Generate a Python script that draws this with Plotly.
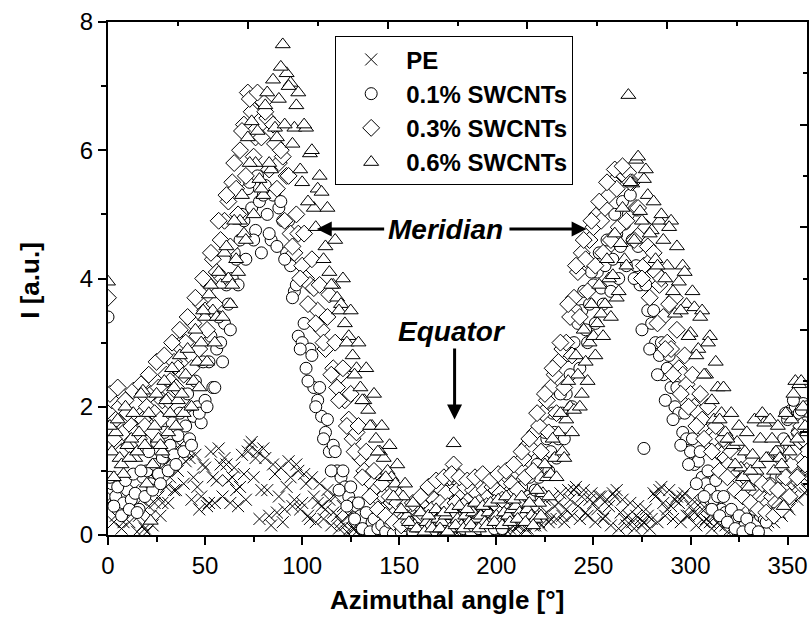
import plotly.graph_objects as go

# Azimuthal angle grids (degrees): even and odd readings
angles_even = list(range(0, 361, 2))
angles_odd = list(range(1, 360, 2))

pe_even = [
    0.5, 0.6, 0.3, 0.5, 0.2, 0.45, 0.35, 0.4, 0.3, 0.15,
    0.05, 0.3, 0.5, 0.6, 0.5, 0.75, 0.9, 0.7, 1.0, 1.3,
    1.15, 1.2, 0.9, 0.75, 0.6, 1.05, 0.5, 0.9, 0.85, 1.1,
    1.2, 0.85, 0.9, 0.7, 0.75, 0.95, 1.3, 1.45, 1.2, 0.25,
    1.35, 0.7, 0.15, 0.95, 0.6, 0.2, 0.75, 0.9, 0.55, 1.0,
    0.5, 0.8, 0.25, 0.6, 0.5, 0.45, 0.4, 0.55, 0.35, 0.3,
    0.2, 0.15, 0.3, 0.1, 0.05, 0.2, 0.1, 0.05, 0.1, 0.05,
    0.1, 0.05, 0.1, 0.05, 0.02, 0.05, 0.1, 0.05, 0.02, 0.08,
    0.05, 0.15, 0.05, 0.1, 0.2, 0.1, 0.05, 0.25, 0.1, 0.2,
    0.15, 0.1, 0.3, 0.05, 0.15, 0.2, 0.1, 0.05, 0.2, 0.1,
    0.05, 0.1, 0.15, 0.05, 0.2, 0.1, 0.15, 0.2, 0.1, 0.25,
    0.15, 0.2, 0.3, 0.35, 0.25, 0.45, 0.5, 0.3, 0.4, 0.55,
    0.7, 0.45, 0.6, 0.35, 0.55, 0.5, 0.4, 0.6, 0.3, 0.45,
    0.65, 0.7, 0.35, 0.25, 0.3, 0.2, 0.3, 0.25, 0.2, 0.3,
    0.25, 0.6, 0.7, 0.5, 0.4, 0.45, 0.55, 0.5, 0.6, 0.3,
    0.45, 0.35, 0.3, 0.4, 0.25, 0.2, 0.3, 0.2, 0.35, 0.15,
    0.25, 0.1, 0.2, 0.1, 0.15, 0.1, 0.2, 0.15, 0.3, 0.25,
    0.2, 0.3, 0.4, 0.35, 0.5, 0.45, 0.6, 0.75, 0.85, 0.9,
    0.7,
]
pe_odd = [
    0.9, 0.2, 0.75, 0.1, 0.8, 0.2, 0.7, 0.05, 0.55, 0.1,
    0.45, 0.15, 0.85, 0.3, 1.1, 0.5, 1.2, 0.7, 1.4, 0.8,
    1.3, 0.55, 1.25, 0.4, 1.1, 0.45, 1.3, 0.5, 1.35, 0.6,
    1.1, 0.5, 1.05, 0.45, 1.25, 0.55, 1.4, 0.9, 1.3, 0.7,
    1.2, 0.3, 1.1, 0.35, 1.05, 0.4, 1.15, 0.45, 1.1, 0.4,
    0.95, 0.3, 0.9, 0.2, 0.8, 0.25, 0.7, 0.15, 0.6, 0.1,
    0.45, 0.05, 0.35, 0.1, 0.25, 0.05, 0.2, 0.02, 0.15, 0.05,
    0.1, 0.02, 0.12, 0.05, 0.1, 0.02, 0.15, 0.05, 0.1, 0.02,
    0.15, 0.05, 0.2, 0.1, 0.25, 0.05, 0.2, 0.1, 0.3, 0.05,
    0.25, 0.05, 0.2, 0.1, 0.3, 0.05, 0.2, 0.1, 0.25, 0.05,
    0.2, 0.05, 0.25, 0.1, 0.3, 0.15, 0.35, 0.1, 0.4, 0.15,
    0.45, 0.15, 0.55, 0.2, 0.6, 0.25, 0.65, 0.2, 0.7, 0.3,
    0.75, 0.25, 0.7, 0.3, 0.65, 0.2, 0.6, 0.25, 0.55, 0.15,
    0.6, 0.1, 0.55, 0.15, 0.5, 0.1, 0.45, 0.15, 0.4, 0.1,
    0.65, 0.2, 0.75, 0.3, 0.7, 0.25, 0.6, 0.2, 0.65, 0.3,
    0.55, 0.15, 0.5, 0.2, 0.45, 0.1, 0.4, 0.15, 0.35, 0.05,
    0.3, 0.05, 0.35, 0.1, 0.3, 0.05, 0.4, 0.1, 0.45, 0.15,
    0.5, 0.2, 0.6, 0.3, 0.75, 0.4, 0.9, 0.55, 1.0, 0.65,
]

swcnt_01_even = [
    3.4, 0.8, 0.6, 0.85, 0.5, 0.7, 0.55, 0.65, 0.4, 0.9,
    1.0, 0.8, 1.1, 0.95, 1.2, 1.3, 1.4, 1.25, 1.55, 3.0,
    1.7, 1.5, 1.85, 2.0, 1.75, 2.1, 2.7, 2.3, 2.9, 3.0,
    3.3, 3.6, 4.0, 4.3, 4.6, 4.9, 5.4, 5.1, 4.75, 5.2,
    5.3, 5.0, 4.6, 5.35, 5.1, 4.9, 4.4, 4.2, 3.8, 3.1,
    3.0, 2.6, 2.9, 2.3, 2.1, 1.85, 1.6, 1.3, 1.4, 1.0,
    0.9, 0.75, 0.6, 0.5, 0.45, 0.3, 0.25, 0.1, 0.2, 0.05,
    0.15, 0.1, 0.05, 0.2, 0.1, 0.05, 0.15, 0.1, 0.05, 0.2,
    0.1, 0.25, 0.15, 0.3, 0.2, 0.35, 0.45, 0.3, 0.55, 1.0,
    0.4, 0.3, 0.25, 0.2, 0.35, 0.15, 0.1, 0.2, 0.15, 0.25,
    0.2, 0.3, 0.25, 0.35, 0.4, 0.3, 0.45, 0.5, 0.6, 0.55,
    0.7, 0.9, 1.2, 1.5, 1.3, 1.6, 1.5, 1.9, 2.2, 2.5,
    3.0, 3.3, 3.5, 3.2, 3.6, 3.9, 4.1, 3.85, 4.2, 4.5,
    4.3, 4.7, 4.5, 4.85, 5.0, 4.6, 4.2, 3.9, 1.35, 3.5,
    3.3, 3.0, 2.8, 2.5, 2.6, 2.3, 2.0, 1.9, 1.6, 1.5,
    1.3, 1.1, 1.15, 0.9, 0.8, 0.7, 0.55, 0.6, 0.4, 0.35,
    0.3, 0.2, 0.25, 0.1, 0.15, 0.05, 0.1, 0.2, 0.3, 0.25,
    0.45, 0.6, 0.9, 1.2, 1.5, 1.8, 1.95, 2.0, 1.9, 2.05,
    2.0,
]
swcnt_01_odd = [
    0.9, 0.45, 0.75, 0.3, 0.85, 0.4, 0.95, 0.35, 1.0, 0.6,
    1.3, 0.7, 1.45, 0.8, 1.6, 1.0, 1.75, 1.1, 1.9, 1.3,
    2.2, 1.4, 2.4, 1.9, 2.7, 2.0, 3.1, 2.3, 3.4, 2.7,
    3.9, 3.2, 4.4, 3.9, 5.0, 4.3, 5.5, 4.6, 5.6, 4.4,
    5.45, 4.7, 5.3, 4.5, 5.2, 4.3, 4.9, 3.7, 3.9, 2.9,
    3.3, 2.4, 2.8, 2.0, 2.3, 1.5, 1.8, 1.0, 1.3, 0.7,
    1.0, 0.45, 0.75, 0.25, 0.5, 0.1, 0.35, 0.05, 0.25, 0.1,
    0.15, 0.05, 0.2, 0.02, 0.25, 0.05, 0.15, 0.3, 0.05, 0.2,
    0.35, 0.1, 0.4, 0.05, 0.5, 0.2, 0.6, 0.15, 0.7, 0.3,
    0.5, 0.1, 0.45, 0.05, 0.35, 0.1, 0.3, 0.05, 0.35, 0.1,
    0.4, 0.1, 0.5, 0.25, 0.6, 0.3, 0.75, 0.35, 0.9, 0.45,
    1.1, 0.6, 1.6, 1.0, 1.9, 1.2, 2.2, 1.5, 2.8, 2.0,
    3.5, 2.6, 3.8, 3.0, 4.1, 3.3, 4.4, 3.6, 4.6, 3.8,
    5.0, 4.0, 5.2, 4.2, 5.3, 4.0, 4.5, 3.2, 3.9, 2.9,
    3.5, 2.5, 3.0, 2.1, 2.8, 1.8, 2.3, 1.4, 1.9, 1.1,
    1.5, 0.8, 1.3, 0.6, 1.0, 0.4, 0.85, 0.3, 0.6, 0.2,
    0.4, 0.1, 0.3, 0.05, 0.25, 0.1, 0.4, 0.05, 0.5, 0.2,
    0.8, 0.35, 1.3, 0.9, 1.9, 1.4, 2.1, 1.6, 1.95, 1.75,
]

swcnt_03_even = [
    3.7, 2.1, 1.8, 2.0, 1.6, 1.9, 1.7, 2.05, 1.5, 1.8,
    2.0, 2.2, 1.9, 2.3, 2.1, 2.5, 2.4, 2.7, 2.6, 2.9,
    3.0, 2.8, 3.3, 3.1, 3.6, 3.5, 3.9, 4.3, 4.1, 4.6,
    4.9, 5.2, 5.5, 5.4, 6.0, 6.4, 6.9, 6.6, 6.2, 6.8,
    6.75, 6.5, 6.3, 6.1, 5.8, 5.9, 5.6, 4.7, 4.4, 4.7,
    4.2, 4.0, 3.9, 3.85, 3.5, 3.2, 2.9, 3.75, 2.6, 2.3,
    2.5, 2.1, 1.8, 1.5, 1.6, 1.2, 1.0, 0.9, 0.8, 0.7,
    0.55, 0.6, 0.45, 0.5, 0.35, 0.3, 0.25, 0.4, 0.3, 0.2,
    0.35, 0.4, 0.5, 0.6, 0.55, 0.8, 0.7, 0.65, 0.9, 1.1,
    0.7, 0.6, 0.75, 0.55, 0.7, 0.65, 0.8, 0.7, 0.6, 0.75,
    0.7, 0.65, 0.85, 0.9, 0.8, 1.0, 1.05, 1.2, 1.4, 1.35,
    1.6, 1.7, 1.9, 2.1, 2.3, 2.5, 2.7, 2.9, 3.0, 3.4,
    3.7, 4.1, 4.4, 4.3, 4.6, 4.8, 5.0, 4.9, 5.1, 5.3,
    5.5, 5.4, 5.7, 5.6, 5.65, 5.5, 5.1, 4.7, 4.2, 4.5,
    4.3, 4.1, 3.9, 3.4, 3.0, 2.9, 3.7, 2.6, 2.5, 2.35,
    2.2, 2.0, 1.9, 1.8, 1.6, 1.55, 1.5, 1.3, 1.25, 1.2,
    1.1, 1.0, 0.95, 0.85, 0.9, 0.75, 0.7, 0.65, 0.6, 0.55,
    0.5, 0.6, 0.5, 0.45, 0.7, 0.9, 1.1, 1.4, 1.6, 1.5,
    1.3,
]
swcnt_03_odd = [
    2.2, 1.5, 2.3, 1.3, 2.1, 1.4, 2.25, 1.6, 2.35, 1.7,
    2.5, 1.6, 2.7, 1.8, 2.8, 2.1, 3.0, 2.3, 3.2, 2.5,
    3.4, 2.6, 3.7, 2.9, 4.0, 3.2, 4.4, 3.6, 4.9, 4.0,
    5.3, 4.5, 5.8, 5.0, 6.3, 5.6, 6.8, 5.9, 6.9, 6.2,
    6.6, 5.7, 6.4, 5.4, 6.0, 4.9, 5.6, 4.5, 5.0, 4.0,
    4.7, 3.6, 4.3, 3.3, 3.9, 3.0, 3.4, 2.5, 3.0, 2.1,
    2.6, 1.7, 2.2, 1.3, 1.7, 0.9, 1.3, 0.6, 1.0, 0.4,
    0.8, 0.3, 0.6, 0.2, 0.5, 0.15, 0.45, 0.2, 0.5, 0.25,
    0.6, 0.3, 0.75, 0.4, 0.85, 0.5, 0.9, 0.45, 0.95, 0.5,
    0.9, 0.45, 0.85, 0.4, 0.9, 0.5, 0.95, 0.45, 0.85, 0.5,
    0.95, 0.55, 1.0, 0.6, 1.1, 0.7, 1.3, 0.9, 1.5, 1.0,
    1.9, 1.3, 2.2, 1.6, 2.6, 1.9, 3.0, 2.3, 3.6, 2.8,
    4.2, 3.4, 4.6, 3.8, 4.9, 4.2, 5.2, 4.4, 5.5, 4.6,
    5.7, 4.8, 5.75, 4.9, 5.5, 4.6, 5.1, 4.0, 4.8, 3.7,
    4.4, 3.3, 4.0, 2.9, 3.6, 2.5, 3.2, 2.2, 2.8, 2.0,
    2.5, 1.7, 2.2, 1.5, 2.0, 1.3, 1.7, 1.0, 1.5, 0.9,
    1.3, 0.7, 1.2, 0.6, 1.0, 0.5, 0.9, 0.4, 0.8, 0.35,
    0.75, 0.3, 0.7, 0.4, 0.9, 0.6, 1.3, 0.9, 1.7, 1.1,
]

swcnt_06_even = [
    3.95, 1.3, 1.6, 1.2, 0.95, 1.4, 1.5, 1.2, 1.6, 2.25,
    0.8, 0.22, 1.7, 1.5, 1.3, 2.1, 1.9, 2.3, 2.1, 2.2,
    2.5, 2.0, 2.4, 2.7, 3.0, 3.4, 3.75, 3.5, 3.4, 3.9,
    4.4, 4.0, 3.9, 4.3, 4.9, 4.7, 6.2, 6.45, 5.8, 5.55,
    5.3, 6.9, 5.7, 6.35, 6.8, 7.65, 7.2, 7.05, 6.35, 6.9,
    5.5, 6.35, 5.95, 5.1, 5.4, 5.35, 4.5, 4.1, 3.9, 3.7,
    3.6, 3.3, 3.1, 2.8, 2.6, 2.3, 2.1, 1.95, 1.7, 1.5,
    1.3, 1.2, 1.0, 0.9, 0.8, 0.65, 0.6, 0.3, 0.2, 0.15,
    0.1, 0.1, 0.2, 0.15, 0.1, 0.25, 0.2, 0.3, 0.1, 1.43,
    0.25, 0.15, 0.3, 0.2, 0.35, 0.25, 0.3, 0.2, 0.35, 0.25,
    0.3, 0.2, 0.35, 0.3, 0.4, 0.45, 0.35, 0.3, 0.4, 0.3,
    0.25, 0.5, 0.65, 0.9, 0.95, 1.2, 1.6, 1.3, 1.8, 2.0,
    1.95, 2.5, 2.2, 2.7, 3.0, 3.1, 3.3, 3.45, 3.6, 4.0,
    4.05, 3.7, 4.55, 4.3, 6.86, 5.48, 5.85, 5.05, 5.55, 5.3,
    4.75, 4.3, 4.9, 4.6, 4.2, 4.9, 3.45, 3.95, 4.2, 3.6,
    3.15, 3.55, 2.9, 3.5, 2.5, 3.1, 1.8, 2.3, 1.9, 1.6,
    1.5, 1.4, 1.45, 1.05, 1.3, 0.75, 1.25, 1.0, 1.5, 1.75,
    1.2, 1.5, 1.3, 1.2, 0.45, 1.45, 1.8, 2.4, 2.35, 2.0,
    1.6,
]
swcnt_06_odd = [
    1.7, 0.9, 1.8, 1.1, 2.0, 1.2, 1.9, 1.3, 2.2, 1.4,
    1.9, 1.1, 2.2, 1.4, 2.4, 1.6, 2.6, 1.7, 2.8, 1.9,
    2.9, 2.0, 3.2, 2.3, 3.5, 2.7, 3.9, 3.0, 4.1, 3.4,
    4.5, 3.6, 4.9, 4.1, 5.3, 4.6, 5.8, 5.0, 6.3, 5.4,
    6.7, 5.8, 7.1, 6.2, 7.3, 6.4, 7.0, 6.1, 6.7, 5.7,
    6.4, 5.2, 6.0, 4.8, 5.6, 4.3, 5.1, 3.9, 4.6, 3.5,
    4.0, 3.0, 3.5, 2.5, 3.0, 2.1, 2.6, 1.7, 2.2, 1.3,
    1.7, 0.9, 1.4, 0.6, 1.1, 0.4, 0.8, 0.2, 0.5, 0.1,
    0.35, 0.05, 0.3, 0.1, 0.4, 0.1, 0.35, 0.05, 0.4, 0.15,
    0.45, 0.1, 0.4, 0.15, 0.5, 0.1, 0.45, 0.15, 0.5, 0.2,
    0.55, 0.15, 0.6, 0.2, 0.55, 0.25, 0.6, 0.2, 0.5, 0.15,
    0.7, 0.3, 1.1, 0.6, 1.5, 0.9, 1.9, 1.2, 2.4, 1.6,
    2.8, 2.0, 3.2, 2.4, 3.6, 2.8, 3.9, 3.1, 4.3, 3.4,
    4.7, 3.8, 5.1, 4.2, 5.5, 4.6, 5.9, 4.9, 5.7, 4.7,
    5.2, 4.2, 5.0, 4.0, 4.8, 3.8, 4.5, 3.5, 4.1, 3.1,
    3.8, 2.8, 3.4, 2.5, 3.0, 2.1, 2.7, 1.8, 2.3, 1.5,
    1.9, 1.1, 1.7, 0.9, 1.6, 1.0, 1.8, 1.1, 1.9, 1.2,
    1.8, 1.0, 1.7, 1.1, 1.9, 1.3, 2.2, 1.5, 2.4, 1.7,
]

series_names = ["PE", "0.1% SWCNTs", "0.3% SWCNTs", "0.6% SWCNTs"]
series_even = [pe_even, swcnt_01_even, swcnt_03_even, swcnt_06_even]
series_odd = [pe_odd, swcnt_01_odd, swcnt_03_odd, swcnt_06_odd]
series_symbols = ["x-thin-open", "circle", "diamond", "triangle-up"]
series_sizes = [12, 12, 13, 13]

FONT = "Liberation Sans, Arial, sans-serif"

fig = go.Figure()
for name, ev, od, sym, sz in zip(series_names, series_even, series_odd, series_symbols, series_sizes):
    fig.add_trace(go.Scatter(
        x=angles_even + angles_odd, y=ev + od, mode="markers", name=name,
        marker=dict(symbol=sym, size=sz, color="white" if sym != "x-thin-open" else "black",
                    line=dict(color="black", width=1)),
    ))

# helper trace for the mirrored top/right axes
fig.add_trace(go.Scatter(x=[0], y=[0], xaxis="x2", yaxis="y2", mode="markers",
                         marker=dict(opacity=0), showlegend=False, hoverinfo="skip"))

axis_common = dict(showgrid=False, zeroline=False, showline=True, linecolor="black",
                   linewidth=2, tickcolor="black", tickwidth=1.5,
                   tickfont=dict(family=FONT, size=24, color="black"))

fig.update_layout(
    width=812, height=629,
    margin=dict(l=108, r=5, t=22, b=94),
    paper_bgcolor="white", plot_bgcolor="white",
    font=dict(family=FONT, color="black"),
    xaxis=dict(range=[0, 360], tick0=0, dtick=50, ticks="outside", ticklen=8,
               minor=dict(dtick=25, ticks="outside", ticklen=5, tickcolor="black", tickwidth=1.5),
               **axis_common),
    yaxis=dict(range=[0, 8], tick0=0, dtick=2, ticks="outside", ticklen=8,
               minor=dict(dtick=1, ticks="outside", ticklen=5, tickcolor="black", tickwidth=1.5),
               **axis_common),
    xaxis2=dict(range=[0, 360], overlaying="x", side="top", anchor="y", tick0=0, dtick=72,
                ticks="inside", ticklen=7, showticklabels=False,
                minor=dict(dtick=36, ticks="inside", ticklen=4, tickcolor="black", tickwidth=1.5),
                showgrid=False, zeroline=False, showline=True, linecolor="black", linewidth=2,
                tickcolor="black", tickwidth=1.5),
    yaxis2=dict(range=[0, 8], overlaying="y", side="right", anchor="x", tick0=0, dtick=1.6,
                ticks="inside", ticklen=7, showticklabels=False,
                minor=dict(dtick=0.8, ticks="inside", ticklen=4, tickcolor="black", tickwidth=1.5),
                showgrid=False, zeroline=False, showline=True, linecolor="black", linewidth=2,
                tickcolor="black", tickwidth=1.5),
    legend=dict(x=0.325, y=0.972, xanchor="left", yanchor="top",
                bgcolor="white", bordercolor="black", borderwidth=1,
                font=dict(family=FONT, size=24, color="black", weight="bold"),
                itemwidth=60, tracegroupgap=0),
    showlegend=True,
)

ann_font = dict(family=FONT, size=28, color="black")
annotations = [
    dict(x=174, y=4.77, xref="x", yref="y", text="<b><i>Meridian</i></b>", showarrow=False,
         font=ann_font, xanchor="center", yanchor="middle"),
    dict(x=107.5, y=4.77, ax=143, ay=4.77, xref="x", yref="y", axref="x", ayref="y", text="",
         showarrow=True, arrowhead=2, arrowsize=1, arrowwidth=3, arrowcolor="black"),
    dict(x=246.5, y=4.77, ax=206, ay=4.77, xref="x", yref="y", axref="x", ayref="y", text="",
         showarrow=True, arrowhead=2, arrowsize=1, arrowwidth=3, arrowcolor="black"),
    dict(x=177, y=3.17, xref="x", yref="y", text="<b><i>Equator</i></b>", showarrow=False,
         font=ann_font, xanchor="center", yanchor="middle"),
    dict(x=178.5, y=1.8, ax=178.5, ay=2.93, xref="x", yref="y", axref="x", ayref="y", text="",
         showarrow=True, arrowhead=2, arrowsize=1, arrowwidth=3, arrowcolor="black"),
    dict(x=0.485, y=-0.127, xref="paper", yref="paper", text="<b>Azimuthal angle [°]</b>",
         showarrow=False, font=dict(family=FONT, size=26, color="black"),
         xanchor="center", yanchor="middle"),
    dict(x=-0.112, y=0.497, xref="paper", yref="paper", text="<b>I [a.u.]</b>", textangle=-90,
         showarrow=False, font=dict(family=FONT, size=26, color="black"),
         xanchor="center", yanchor="middle"),
]
fig.update_layout(annotations=annotations)

fig.write_html("out.html")
